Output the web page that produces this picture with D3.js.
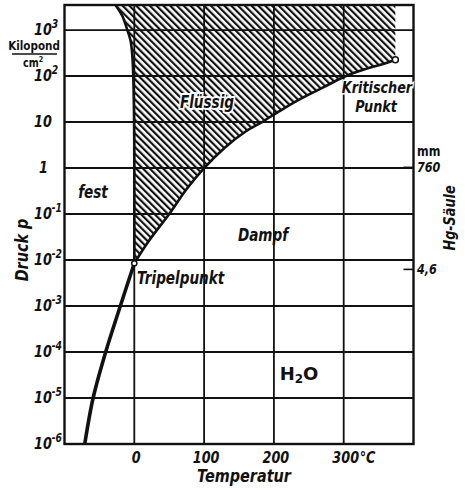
<!DOCTYPE html>
<html>
<head>
<meta charset="utf-8">
<script src="https://cdn.jsdelivr.net/npm/d3@7"></script>
<style>
  html, body { margin: 0; padding: 0; background: #fff; }
  svg { display: block; }
  .lbl { font-family: "DejaVu Sans", "Liberation Sans", sans-serif;
         font-weight: bold; font-style: italic; fill: #111; }
  .up { font-family: "DejaVu Sans", "Liberation Sans", sans-serif;
        font-weight: bold; fill: #111; }
</style>
</head>
<body>
<script>
// Phase diagram of water: temperature in °C, pressure in kp/cm² (log scale)
const tempTicks = [0, 100, 200, 300];
const tempTickLabels = ["0", "100", "200", "300"];
const pressureDecades = [-6, -5, -4, -3, -2, -1, 0, 1, 2, 3];
const pressureTickLabels = [["10","-6"],["10","-5"],["10","-4"],["10","-3"],["10","-2"],["10","-1"],["1",""],["10",""],["10","2"],["10","3"]];

// Sublimation curve (ice – vapour)
const sublimation = [[-71, 1e-6], [-59, 1e-5], [-41, 1e-4], [-20, 1e-3], [0, 0.0085]];
// Vapour pressure curve (liquid – vapour), triple point to critical point
const vaporization = [[0, 0.0085], [20, 0.025], [50, 0.1], [75, 0.35], [100, 1.0], [130, 2.8], [160, 6.3],
                      [183, 10], [210, 18], [240, 33], [270, 56], [300, 95], [330, 140], [360, 190], [374, 225]];
// Melting curve (ice – liquid)
const melting = [[0, 0.0085], [0, 1], [-0.3, 10], [-1.5, 100], [-3, 300], [-5.5, 600], [-10, 1000], [-17, 2000], [-27, 3500]];

const triplePoint = [0, 0.0085];
const criticalPoint = [374, 225];

// Right-hand mercury column scale (mm Hg)
const mmHgTicks = [760, 4.6];
const mmHgLabels = ["760", "4,6"];
const MMHG_TO_KP = 1.0332 / 760;

const W = 465, H = 490;
const SX = 0.8; // horizontal squeeze for the narrow lettering
const svg = d3.select("body").append("svg").attr("width", W).attr("height", H);
svg.append("rect").attr("width", W).attr("height", H).attr("fill", "#fff");

const x = d3.scaleLinear().domain([-100, 400]).range([64.5, 413.5]);
const y = d3.scaleLog().domain([1e-6, 3500]).range([444, 5]);
const [x0, x1] = x.range();
const [yB, yT] = y.range();

const defs = svg.append("defs");
const pat = defs.append("pattern").attr("id", "hatch")
  .attr("patternUnits", "userSpaceOnUse").attr("width", 4.8).attr("height", 10)
  .attr("patternTransform", "rotate(-45)");
pat.append("line").attr("x1", 1.1).attr("x2", 1.1).attr("y1", 0).attr("y2", 10)
  .attr("stroke", "#111").attr("stroke-width", 2.2);
defs.append("clipPath").attr("id", "plotclip").append("rect")
  .attr("x", x0).attr("y", yT).attr("width", x1 - x0).attr("height", yB - yT);

const line = d3.line().x(d => x(d[0])).y(d => y(d[1])).curve(d3.curveCatmullRom.alpha(0.5));

// Narrow text placed at (px, py)
function label(parent, px, py, cls, size, anchor, rot) {
  return parent.append("text").attr("class", cls)
    .attr("transform", `translate(${px},${py})${rot ? ` rotate(${rot})` : ""} scale(${SX},1)`)
    .attr("font-size", size).attr("text-anchor", anchor || "start");
}

// Liquid region: melting curve down to triple point, vapour curve up to critical point, then up to the top
const meltDown = melting.slice().reverse();
const liquidPath = line(meltDown) + line(vaporization).replace(/^M/, "L") +
  `L${x(criticalPoint[0])},${yT - 5}L${x(meltDown[0][0])},${yT - 5}Z`;
svg.append("path").attr("d", liquidPath).attr("fill", "url(#hatch)").attr("clip-path", "url(#plotclip)");

// Grid
const grid = svg.append("g").attr("stroke", "#111").attr("stroke-width", 1.8);
grid.selectAll("line.h").data(pressureDecades.filter(e => e > -6)).join("line")
  .attr("x1", x0).attr("x2", x1).attr("y1", e => y(Math.pow(10, e))).attr("y2", e => y(Math.pow(10, e)));
grid.selectAll("line.v").data(tempTicks).join("line")
  .attr("x1", d => x(d)).attr("x2", d => x(d)).attr("y1", yT).attr("y2", yB);

// Frame
svg.append("rect").attr("x", x0).attr("y", yT).attr("width", x1 - x0).attr("height", yB - yT)
  .attr("fill", "none").attr("stroke", "#111").attr("stroke-width", 2.4);

// Phase boundaries
const curves = svg.append("g").attr("clip-path", "url(#plotclip)").attr("fill", "none").attr("stroke", "#111")
  .attr("stroke-linecap", "round");
curves.append("path").attr("d", line(sublimation)).attr("stroke-width", 3.6);
curves.append("path").attr("d", line(vaporization)).attr("stroke-width", 2.6);
curves.append("path").attr("d", line(melting)).attr("stroke-width", 2.6);

svg.append("circle").attr("cx", x(triplePoint[0])).attr("cy", y(triplePoint[1])).attr("r", 2.6)
  .attr("fill", "#fff").attr("stroke", "#111").attr("stroke-width", 1.5);
svg.append("circle").attr("cx", x(criticalPoint[0])).attr("cy", y(criticalPoint[1])).attr("r", 3)
  .attr("fill", "#fff").attr("stroke", "#111").attr("stroke-width", 1.5);

// Left axis labels (powers of ten)
pressureDecades.forEach((e, i) => {
  const [base, exp] = pressureTickLabels[i];
  const t = label(svg, base === "1" ? 39 : 34, y(Math.pow(10, e)) + 5, "lbl", 16);
  t.append("tspan").text(base);
  if (exp) t.append("tspan").attr("dy", -7).attr("font-size", 11.5).text(exp);
});

// Unit
label(svg, 34, 50, "up", 13, "middle").text("Kilopond");
svg.append("line").attr("x1", 12).attr("x2", 57).attr("y1", 54).attr("y2", 54)
  .attr("stroke", "#111").attr("stroke-width", 1.4);
const cm = label(svg, 23, 67, "up", 12);
cm.append("tspan").text("cm");
cm.append("tspan").attr("dy", -5).attr("font-size", 8).text("2");

label(svg, 28, 250, "lbl", 18, "middle", -90).text("Druck p");

// Bottom axis labels
tempTicks.forEach((t, i) => {
  label(svg, x(t) + 2, 463, "lbl", 16, "middle").text(tempTickLabels[i]);
});
label(svg, x(300) + 16, 463, "lbl", 16).text("°C");
label(svg, 244, 482, "lbl", 18, "middle").text("Temperatur");

// Right axis: mercury column
mmHgTicks.forEach((m, i) => {
  const yy = y(m * MMHG_TO_KP);
  svg.append("line").attr("x1", x1 - 10).attr("x2", x1).attr("y1", yy).attr("y2", yy)
    .attr("stroke", "#111").attr("stroke-width", 1.6);
  label(svg, 417, yy + 5, "lbl", 14).text(mmHgLabels[i]);
});
label(svg, 417, 156, "up", 14).text("mm");
label(svg, 455, 218, "lbl", 16, "middle", -90).text("Hg-Säule");

// Region and point labels
label(svg, 93, 198, "lbl", 17, "middle").text("fest");
label(svg, 207, 108, "lbl", 17, "middle")
  .attr("stroke", "#fff").attr("stroke-width", 4).attr("paint-order", "stroke").text("Flüssig");
label(svg, 263, 241, "lbl", 17, "middle").text("Dampf");
label(svg, 137, 284, "lbl", 17).text("Tripelpunkt");
label(svg, 377, 93, "lbl", 16, "middle")
  .attr("stroke", "#fff").attr("stroke-width", 3).attr("paint-order", "stroke").text("Kritischer");
label(svg, 376, 112, "lbl", 16, "middle").text("Punkt");

const h2o = svg.append("text").attr("class", "up").attr("x", 299).attr("y", 380).attr("text-anchor", "middle")
  .attr("font-size", 18);
h2o.append("tspan").text("H");
h2o.append("tspan").attr("dy", 3).attr("font-size", 12).text("2");
h2o.append("tspan").attr("dy", -3).text("O");
</script>
</body>
</html>
